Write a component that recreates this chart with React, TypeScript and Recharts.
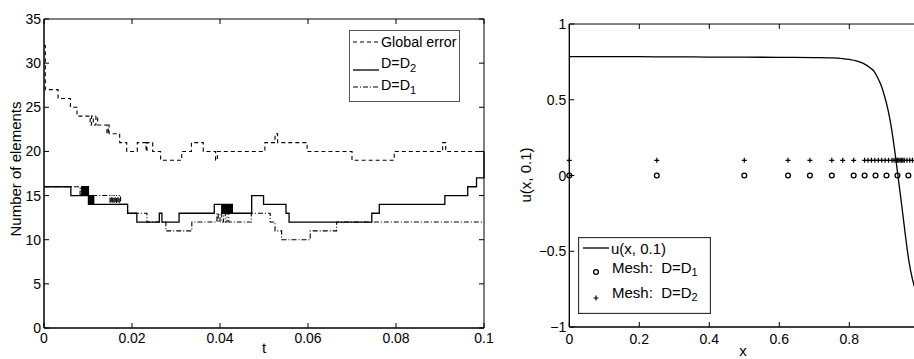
import React from 'react';
import {
  LineChart,
  ComposedChart,
  Line,
  Scatter,
  XAxis,
  YAxis,
  Legend,
  ReferenceArea,
} from 'recharts';

const FONT = '"Liberation Sans", Arial, Helvetica, sans-serif';

// ---- left panel: number of elements over time ----
const T_TICKS = [0, 0.02, 0.04, 0.06, 0.08, 0.1];
const N_TICKS = [0, 5, 10, 15, 20, 25, 30, 35];

// [t, elements] step points
const GLOBAL_ERROR: [number, number][] = [
  [0, 32], [0.0003, 27], [0.0032, 26], [0.006, 25], [0.0075, 24], [0.0105, 23],
  [0.0108, 24], [0.0112, 23], [0.0118, 24], [0.0122, 23], [0.0143, 22], [0.0146, 23],
  [0.0148, 22], [0.0172, 21], [0.0188, 20], [0.0212, 21], [0.0232, 20], [0.0234, 21],
  [0.0247, 20], [0.0265, 19], [0.0313, 20], [0.0335, 21], [0.0362, 20], [0.039, 19],
  [0.0394, 20], [0.0502, 21], [0.0525, 22], [0.0531, 21], [0.0598, 20], [0.07, 19],
  [0.0796, 20], [0.0906, 21], [0.0913, 20], [0.1, 20],
];

const ELEMENTS_D2: [number, number][] = [
  [0, 16], [0.0061, 15], [0.0086, 16], [0.0089, 15], [0.0092, 16], [0.0095, 15],
  [0.0098, 16], [0.0101, 14], [0.0104, 15], [0.0107, 14], [0.011, 15], [0.0113, 14],
  [0.019, 13], [0.0211, 12], [0.0262, 13], [0.0268, 12], [0.0307, 13], [0.0387, 14],
  [0.0404, 13], [0.0407, 14], [0.041, 13], [0.0413, 14], [0.0416, 13], [0.0419, 14],
  [0.0422, 13], [0.0425, 14], [0.0428, 13], [0.0472, 15], [0.0499, 14], [0.055, 13],
  [0.0557, 12], [0.0745, 13], [0.0762, 14], [0.0911, 15], [0.0963, 16], [0.0983, 17],
  [0.1, 20],
];

const ELEMENTS_D1: [number, number][] = [
  [0, 16], [0.0082, 15], [0.0085, 16], [0.0088, 15], [0.0091, 16], [0.0094, 15],
  [0.0097, 16], [0.01, 15], [0.015, 14], [0.0153, 15], [0.0156, 14], [0.0159, 15],
  [0.0162, 14], [0.0165, 15], [0.0168, 14], [0.0171, 15], [0.0174, 14], [0.019, 13],
  [0.0234, 12], [0.0277, 11], [0.0336, 12], [0.0393, 13], [0.0396, 12], [0.04, 13],
  [0.0404, 12], [0.0408, 13], [0.0412, 12], [0.0416, 13], [0.042, 12], [0.0471, 13],
  [0.0514, 12], [0.0525, 11], [0.054, 10], [0.0605, 11], [0.0665, 12], [0.1, 12],
];

// ---- right panel: solution and meshes ----
const X_TICKS = [0, 0.2, 0.4, 0.6, 0.8, 1];
const U_TICKS = [-1, -0.5, 0, 0.5, 1];

const CURVE_X = [0, 0.1, 0.2, 0.3, 0.4, 0.5, 0.6, 0.7, 0.75, 0.78, 0.8, 0.82, 0.84, 0.86,
  0.87, 0.88, 0.89, 0.9, 0.91, 0.92, 0.93, 0.94, 0.95, 0.96, 0.97, 0.98, 0.99, 1];
const CURVE_U = [0.785, 0.785, 0.784, 0.783, 0.782, 0.781, 0.78, 0.778, 0.776, 0.772, 0.766,
  0.757, 0.74, 0.71, 0.69, 0.65, 0.6, 0.53, 0.44, 0.32, 0.16, -0.02, -0.2, -0.39, -0.56,
  -0.68, -0.76, -0.8];

const NODES_D1 = [0, 0.25, 0.5, 0.625, 0.6875, 0.75, 0.8125, 0.84375, 0.875, 0.90625,
  0.9375, 0.96875, 1];
const NODES_D2 = [0, 0.25, 0.5, 0.625, 0.6875, 0.75, 0.78125, 0.8125, 0.84375, 0.8535,
  0.8633, 0.873, 0.8828, 0.8926, 0.9023, 0.9121, 0.9219, 0.9277, 0.9336, 0.9375, 0.9414,
  0.9453, 0.9492, 0.9531, 0.957, 0.9648, 0.9727, 0.9805, 1];
const ROW_D1 = 0;
const ROW_D2 = 0.1;

const toSteps = (arr: [number, number][]) => arr.map(([t, n]) => ({ t, n }));
const curve = CURVE_X.map((x, i) => ({ x, u: CURVE_U[i] }));
const meshD1 = NODES_D1.map((x) => ({ x, y: ROW_D1 }));
const meshD2 = NODES_D2.map((x) => ({ x, y: ROW_D2 }));

// plot boxes in each chart's own svg coordinates
const LBOX = { left: 44, right: 484, top: 19, bottom: 328 };
const RBOX = { left: 89.3, right: 439.3, top: 24, bottom: 327 };

const fmt = (v: number) => String(v).replace('-', '\u2212');

// inward ticks on both sides of the box, like a matlab frame
function makeXTick(box: typeof LBOX, gap: number, maxLabelX = Infinity) {
  return (props: any) => {
    const { x, payload } = props;
    return (
      <g>
        <line x1={x} x2={x} y1={box.bottom} y2={box.bottom - 5} stroke="#000" />
        <line x1={x} x2={x} y1={box.top} y2={box.top + 5} stroke="#000" />
        {x <= maxLabelX && (
          <text x={x} y={box.bottom + gap} textAnchor="middle" dominantBaseline="central"
            fontSize={14} fontFamily={FONT} fill="#000">
            {fmt(payload.value)}
          </text>
        )}
      </g>
    );
  };
}

function makeYTick(box: typeof LBOX) {
  return (props: any) => {
    const { y, payload } = props;
    return (
      <g>
        <line x1={box.left} x2={box.left + 5} y1={y} y2={y} stroke="#000" />
        <line x1={box.right} x2={box.right - 5} y1={y} y2={y} stroke="#000" />
        <text x={box.left - 3} y={y} textAnchor="end" dominantBaseline="central"
          fontSize={14} fontFamily={FONT} fill="#000">
          {fmt(payload.value)}
        </text>
      </g>
    );
  };
}

const textProps = { fontSize: 15, fontFamily: FONT, fill: '#000' };
const legendText = { fontSize: 14.3, fontFamily: FONT, fill: '#000' };

function LeftLegend() {
  return (
    <svg width={111} height={72} style={{ display: 'block' }}>
      <rect x={0.5} y={0.5} width={110} height={71} fill="#fff" stroke="#555" />
      <line x1={4} x2={30} y1={12} y2={12} stroke="#000" strokeDasharray="4 3" />
      <text x={32} y={12} dominantBaseline="central" {...legendText}>Global error</text>
      <line x1={4} x2={30} y1={40} y2={40} stroke="#000" strokeWidth={1.3} />
      <text x={32} y={33} dominantBaseline="central" {...legendText}>
        D=D<tspan dy={5} fontSize={11}>2</tspan>
      </text>
      <line x1={4} x2={30} y1={57} y2={57} stroke="#000" strokeDasharray="5 2 1 2" />
      <text x={32} y={55} dominantBaseline="central" {...legendText}>
        D=D<tspan dy={5} fontSize={11}>1</tspan>
      </text>
    </svg>
  );
}

function RightLegend() {
  return (
    <svg width={133} height={77} style={{ display: 'block' }}>
      <rect x={0.5} y={0.5} width={132} height={76} fill="#fff" stroke="#333" strokeWidth={1.3} />
      <line x1={5} x2={31} y1={11} y2={11} stroke="#000" strokeWidth={1.3} />
      <text x={33} y={11} dominantBaseline="central" {...textProps}>u(x, 0.1)</text>
      <circle cx={18} cy={35} r={2.4} fill="none" stroke="#000" strokeWidth={1.3} />
      <text x={34} y={30} dominantBaseline="central" {...textProps} xmlSpace="preserve">
        Mesh:  D=D<tspan dy={5} fontSize={11}>1</tspan>
      </text>
      <path d="M15.5 61H20.5M18 58.5V63.5" stroke="#000" strokeWidth={1.2} />
      <text x={34} y={55} dominantBaseline="central" {...textProps} xmlSpace="preserve">
        Mesh:  D=D<tspan dy={5} fontSize={11}>2</tspan>
      </text>
    </svg>
  );
}

const OpenCircle = (p: any) => (
  <circle cx={p.cx} cy={p.cy} r={2.4} fill="none" stroke="#000" strokeWidth={1.3} />
);
const Plus = (p: any) => (
  <path d={`M${p.cx - 2.5} ${p.cy}H${p.cx + 2.5}M${p.cx} ${p.cy - 2.5}V${p.cy + 2.5}`}
    stroke="#000" strokeWidth={1.2} />
);

export default function App() {
  return (
    <div style={{ position: 'absolute', left: 0, top: 0, width: 914, height: 359,
      overflow: 'hidden', background: '#fff', fontFamily: FONT }}>
      <div style={{ position: 'absolute', left: 0, top: 0 }}>
        <LineChart width={500} height={359} margin={{ top: 19, right: 16, bottom: 0, left: 0 }}>
          <XAxis dataKey="t" type="number" domain={[0, 0.1]} ticks={T_TICKS} interval={0}
            height={31} tickLine={false} stroke="#000" tick={makeXTick(LBOX, 10)}
            label={() => (
              <text x={264} y={347} textAnchor="middle" dominantBaseline="central" {...textProps}>t</text>
            )} />
          <YAxis type="number" domain={[0, 35]} ticks={N_TICKS} interval={0} width={44}
            tickLine={false} stroke="#000" tick={makeYTick(LBOX)}
            label={() => (
              <text x={15} y={169} transform="rotate(-90 15 169)" textAnchor="middle"
                dominantBaseline="central" {...textProps}>Number of elements</text>
            )} />
          <ReferenceArea x1={0} x2={0.1} y1={0} y2={35} fill="none" stroke="#000" strokeWidth={1} />
          <Line data={toSteps(GLOBAL_ERROR)} dataKey="n" type="stepAfter" stroke="#000"
            strokeWidth={1.1} strokeDasharray="4 3" dot={false} isAnimationActive={false} />
          <Line data={toSteps(ELEMENTS_D2)} dataKey="n" type="stepAfter" stroke="#000"
            strokeWidth={1.3} dot={false} isAnimationActive={false} />
          <Line data={toSteps(ELEMENTS_D1)} dataKey="n" type="stepAfter" stroke="#000"
            strokeWidth={1.1} strokeDasharray="5 2 1 2" dot={false} isAnimationActive={false} />
          <Legend layout="vertical" align="center" verticalAlign="middle"
            wrapperStyle={{ left: 349, top: 30, width: 111, height: 72 }}
            content={() => <LeftLegend />} />
        </LineChart>
      </div>
      <div style={{ position: 'absolute', left: 480, top: 0 }}>
        <ComposedChart width={450} height={359} margin={{ top: 24, right: 10.7, bottom: 0, left: 0 }}>
          <XAxis dataKey="x" type="number" domain={[0, 1]} ticks={X_TICKS} interval={0}
            height={32} tickLine={false} stroke="#000" tick={makeXTick(RBOX, 12, 420)}
            label={() => (
              <text x={263} y={350} textAnchor="middle" dominantBaseline="central" {...textProps}>x</text>
            )} />
          <YAxis type="number" domain={[-1, 1]} ticks={U_TICKS} interval={0} width={89.3}
            tickLine={false} stroke="#000" tick={makeYTick(RBOX)}
            label={() => (
              <text x={45} y={175} transform="rotate(-90 45 175)" textAnchor="middle"
                dominantBaseline="central" {...textProps}>u(x, 0.1)</text>
            )} />
          <ReferenceArea x1={0} x2={1} y1={-1} y2={1} fill="none" stroke="#000" strokeWidth={1} />
          <Line data={curve} dataKey="u" type="monotone" stroke="#000" strokeWidth={1.3}
            dot={false} isAnimationActive={false} />
          <Scatter data={meshD1} dataKey="y" shape={OpenCircle} isAnimationActive={false} />
          <Scatter data={meshD2} dataKey="y" shape={Plus} isAnimationActive={false} />
          <Legend layout="vertical" align="center" verticalAlign="middle"
            wrapperStyle={{ left: 98, top: 237, width: 133, height: 77 }}
            content={() => <RightLegend />} />
        </ComposedChart>
      </div>
    </div>
  );
}
